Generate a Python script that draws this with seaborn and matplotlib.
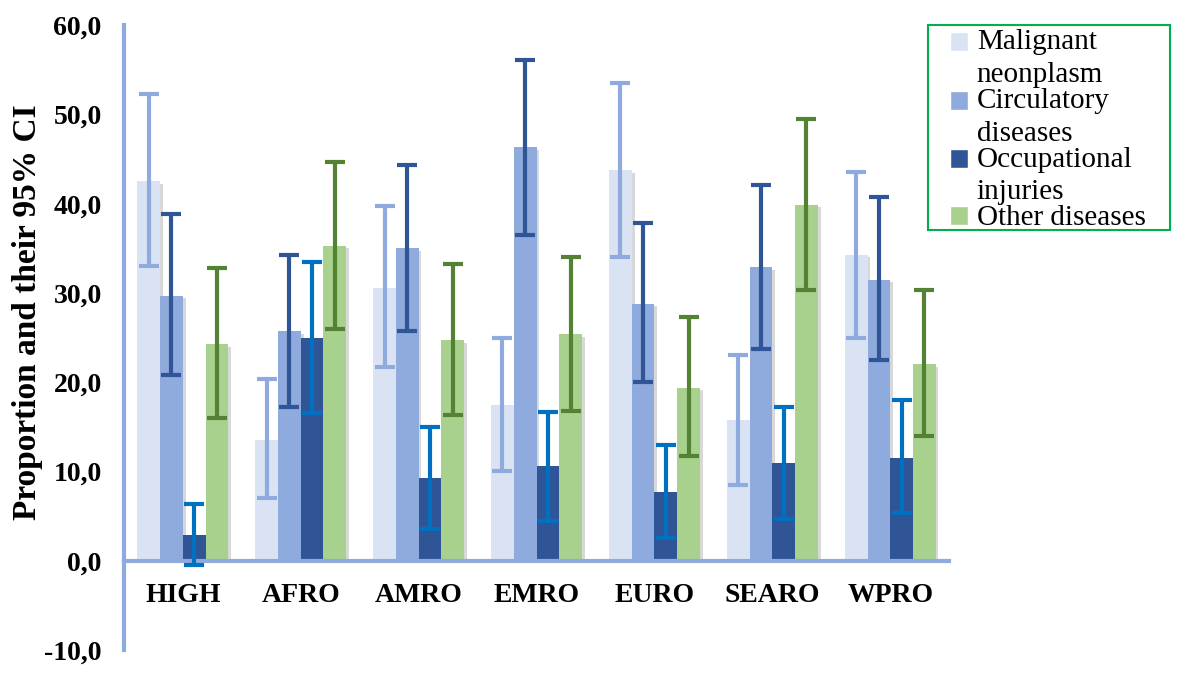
import numpy as np
import pandas as pd
import matplotlib
matplotlib.use("Agg")
import matplotlib.pyplot as plt
import matplotlib.patheffects as pe
from matplotlib.patches import Rectangle
from matplotlib.legend_handler import HandlerPatch
import seaborn as sns

# ─────────────────────────────────────────────
# Data
# ─────────────────────────────────────────────
regions = ["HIGH", "AFRO", "AMRO", "EMRO", "EURO", "SEARO", "WPRO"]
causes = ["Malignant neonplasm", "Circulatory diseases",
          "Occupational injuries", "Other diseases"]
legend_labels = ["Malignant\nneonplasm", "Circulatory\ndiseases",
                 "Occupational\ninjuries", "Other diseases"]

malignant     = [42.5, 13.5, 30.6, 17.5, 43.8, 15.8, 34.3]
malignant_lo  = [33.0,  7.0, 21.7, 10.0, 34.0,  8.5, 25.0]
malignant_hi  = [52.3, 20.4, 39.8, 24.9, 53.5, 23.0, 43.6]

circulatory    = [29.7, 25.7, 35.0, 46.3, 28.8, 32.9, 31.5]
circulatory_lo = [20.8, 17.2, 25.7, 36.5, 20.0, 23.7, 22.5]
circulatory_hi = [38.8, 34.3, 44.3, 56.1, 37.8, 42.1, 40.7]

occupational    = [2.9, 25.0,  9.3, 10.6,  7.7, 11.0, 11.5]
occupational_lo = [-0.5, 16.5, 3.5,  4.5,  2.5,  4.7,  5.3]
occupational_hi = [6.3, 33.5, 15.0, 16.7, 13.0, 17.2, 18.0]

other    = [24.3, 35.3, 24.7, 25.4, 19.4, 39.9, 22.0]
other_lo = [16.0, 26.0, 16.3, 16.8, 11.7, 30.3, 14.0]
other_hi = [32.8, 44.7, 33.2, 34.0, 27.3, 49.5, 30.3]

bar_colors = ["#dae3f3", "#8faadc", "#2f5597", "#a9d18e"]
err_colors = ["#8faadc", "#2f5597", "#0070c0", "#548235"]
AXIS_COLOR = "#8faadc"
LEGEND_EDGE = "#00b050"

# ─────────────────────────────────────────────
values = [malignant, circulatory, occupational, other]
lows = [malignant_lo, circulatory_lo, occupational_lo, other_lo]
highs = [malignant_hi, circulatory_hi, occupational_hi, other_hi]

df = pd.DataFrame({
    "region": np.tile(regions, len(causes)),
    "cause": np.repeat(causes, len(regions)),
    "value": np.concatenate(values),
})

sns.set_style("white")
plt.rcParams["font.family"] = ["Liberation Serif", "DejaVu Serif"]
plt.rcParams["text.color"] = "black"
plt.rcParams["axes.labelcolor"] = "black"
plt.rcParams["xtick.labelcolor"] = "black"
plt.rcParams["ytick.labelcolor"] = "black"

fig, ax = plt.subplots(figsize=(11.91, 6.82), dpi=100)
fig.subplots_adjust(left=0.104, right=0.797, top=0.963, bottom=0.047)

sns.barplot(
    data=df, x="region", y="value", hue="cause",
    order=regions, hue_order=causes,
    palette=bar_colors, width=0.77, gap=0, errorbar=None,
    saturation=1, ax=ax, legend=True,
)

shadow = [pe.SimplePatchShadow(offset=(2, -2), shadow_rgbFace="#808080", alpha=0.3),
          pe.Normal()]

bar_containers = list(ax.containers)
for i, container in enumerate(bar_containers):
    xs = []
    for bar in container.patches:
        bar.set_edgecolor("none")
        bar.set_path_effects(shadow)
        xs.append(bar.get_x() + bar.get_width() / 2)
    v = np.array(values[i])
    yerr = [v - np.array(lows[i]), np.array(highs[i]) - v]
    ax.errorbar(xs, v, yerr=yerr, fmt="none", ecolor=err_colors[i],
                elinewidth=3, capsize=7, capthick=3, zorder=5)

# ── Axes styling ──────────────────────────────────────────────────────
# spines first: moving a spine resets the tick labels
for side in ["top", "right"]:
    ax.spines[side].set_visible(False)
ax.spines["left"].set_color(AXIS_COLOR)
ax.spines["left"].set_linewidth(3)
ax.spines["bottom"].set_position(("data", 0))
ax.spines["bottom"].set_color(AXIS_COLOR)
ax.spines["bottom"].set_linewidth(3)

ax.set_xlim(-0.5, 6.5)
ax.set_ylim(-10, 60)
yticks = np.arange(-10, 61, 10)
ax.set_yticks(yticks)
ax.set_yticklabels([f"{t:.1f}".replace(".", ",") for t in yticks],
                   fontsize=20, fontweight="bold")
ax.set_xticks(range(len(regions)))
ax.set_xticklabels(regions, fontsize=20, fontweight="bold")
ax.tick_params(axis="y", length=7, width=3, color=AXIS_COLOR, pad=9)
ax.tick_params(axis="x", length=0, pad=16)

ax.set_xlabel("")
ax.set_ylabel("Proportion and their 95% CI", fontsize=24, fontweight="bold")
ax.yaxis.set_label_coords(-0.098, 0.54)

# ── Legend ────────────────────────────────────────────────────────────
LEG_FS = 21
LINE = 1.34


def square_handler(n_lines):
    # put the colour square next to the first text line
    def patch_func(legend, orig_handle, xdescent, ydescent, width, height, fontsize):
        shift = (n_lines - 1) * fontsize * LINE * 0.86 * 0.5
        return Rectangle((-xdescent, -ydescent + shift), width, height)
    return HandlerPatch(patch_func=patch_func)


handles, _ = ax.get_legend_handles_labels()
handler_map = {h: square_handler(lab.count("\n") + 1)
               for h, lab in zip(handles, legend_labels)}
leg = ax.legend(
    handles, legend_labels, handler_map=handler_map,
    loc="upper left", bbox_to_anchor=(950 / 1191, 1 - 29 / 682),
    bbox_transform=fig.transFigure, borderaxespad=0,
    fontsize=LEG_FS, frameon=False,
    handlelength=0.62, handleheight=0.62, handletextpad=0.3,
    labelspacing=0.0, borderpad=0,
)
for t in leg.get_texts():
    t.set_linespacing(LINE)

fig.patches.append(Rectangle(
    (928 / 1191, 1 - 230 / 682), (1170 - 928) / 1191, (230 - 25) / 682,
    transform=fig.transFigure, fill=False, edgecolor=LEGEND_EDGE,
    linewidth=1.5, figure=fig,
))

fig.savefig("out.png", dpi=100)
plt.close(fig)
